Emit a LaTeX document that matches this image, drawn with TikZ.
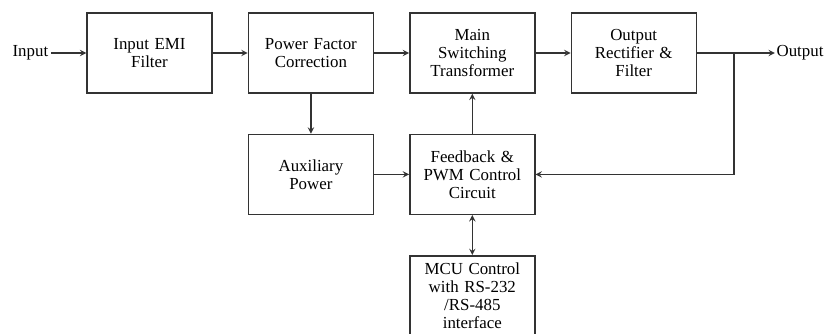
\documentclass[tikz,border=0pt]{standalone}
\usepackage{fontspec}
\setmainfont{Liberation Serif}
\usetikzlibrary{positioning}
\begin{document}
\begin{tikzpicture}[node distance=0.875cm, font=\fontsize{12}{12.8}\selectfont]
    \tikzstyle{block} = [rectangle, draw=black!80, line width=1pt, text width=2.7cm, align=center, minimum width=3.125cm, minimum height=2cm]
    \tikzstyle{arrow} = [draw=black!80, line width=1pt, ->, >=stealth]
    \useasboundingbox (0,0) rectangle (20.625,-8.35);
    \node (filter) [block] at (3.7375,-1.325) {Input EMI\\ Filter};
    \node (pfc) [block, right=of filter] {Power Factor\\ Correction};
    \node (trafo) [block, right=of pfc] {Main\\ Switching\\ Transformer};
    \node (rect) [block, right=of trafo] {Output\\ Rectifier \&\\ Filter};
    \node (aux) [block, below=1cm of pfc] {Auxiliary\\ Power};
    \node (pwm) [block, below=1cm of trafo] {Feedback \&\\ PWM Control\\ Circuit};
    \node (mcu) [block, below=1cm of pwm] {MCU Control\\ with RS-232\\ /RS-485\\ interface};
    \node (in) [left=0.875cm of filter, inner sep=2pt] {Input};
    \node (out) [right=1.95cm of rect.east, anchor=west, inner sep=1pt] {Output};
    \coordinate [right=0.925cm of rect.east] (split);

    \draw [arrow] (in) -- (filter);
    \draw [arrow] (filter) -- (pfc);
    \draw [arrow] (pfc) -- (trafo);
    \draw [arrow] (trafo) -- (rect);
    \draw [arrow] (rect) -- (out);
    \draw [arrow] (pfc) -- (aux);
    \draw [arrow] (aux) -- (pwm);
    \draw [arrow] (pwm) -- (trafo);
    \draw [arrow, <->] (pwm) -- (mcu);
    \draw [arrow] (split) |- (pwm.east);

\end{tikzpicture}
\end{document}
